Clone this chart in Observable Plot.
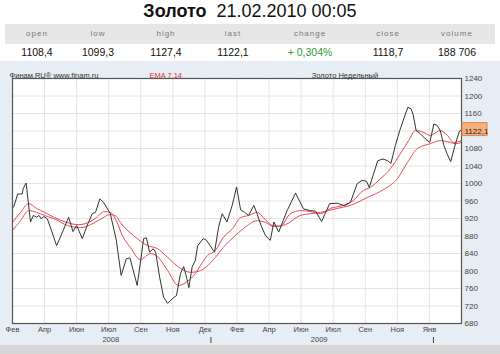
<!DOCTYPE html>
<html><head><meta charset="utf-8">
<script src="https://cdn.jsdelivr.net/npm/d3@7"></script>
<script src="https://cdn.jsdelivr.net/npm/@observablehq/plot@0.6"></script>
<style>
body{margin:0;width:500px;height:354px;overflow:hidden;background:#fff;font-family:"Liberation Sans",Arial,sans-serif;position:relative}
#title{position:absolute;top:1px;left:0;width:500px;text-align:center;font-size:18px;line-height:20px;color:#111}
#title b{font-weight:bold}
#hdr{position:absolute;top:24px;left:5px;width:490px;height:20px;background:#e6e6e6}
.cell{position:absolute;transform:translateX(-50%);white-space:nowrap}
.h{top:29px;font-size:8px;letter-spacing:1px;color:#777}
.v{top:46px;font-size:10.5px;color:#111}
#panel{position:absolute;top:61px;left:0;width:500px;height:284px;background:#e6edf5}
#foot{position:absolute;top:345px;left:0;width:500px;height:9px;background:#d6d6d6}
</style></head>
<body>
<div id="title"><b>Золото</b>&nbsp; 21.02.2010 00:05</div>
<div id="hdr"></div>
<div id="stats"></div>
<div id="panel"></div>
<div id="foot"></div>
<script>
// ---- table data
const statLabels = ["open","low","high","last","change","close","volume"];
const statValues = ["1108,4","1099,3","1127,4","1122,1","+ 0,304%","1118,7","188 706"];
const statCenters = [37, 98, 166, 233, 310, 388, 457];

// ---- axis labels
const tickWeeks = [0,8,16,24,32,40,48,56,64,72,80,88,96,104];
const tickLabels = ["Фев","Апр","Июн","Июл","Сен","Ноя","Дек","Фев","Апр","Июн","Июл","Сен","Ноя","Янв"];
const yearLabels = ["2008","2009"];
const yearWeeks = [24.5, 76.5];
const yearMarkWeeks = [49.5, 105];
const yTicks = [680,720,760,800,840,880,920,960,1000,1040,1080,1120,1160,1200,1240];
const yLabelTicks = [680,720,760,800,840,880,920,960,1000,1040,1080,1160,1200,1240];

// ---- weekly close (black)
const closeWeeks = [0.3,1.3,2.4,2.7,3.4,4.5,5.2,6.0,6.6,7.2,
 7.8,8.7,9.7,11.0,12.8,14.0,15.1,16.0,17.4,18.8,
 19.9,20.7,21.8,22.8,24.4,25.9,27.1,28.4,29.3,31.1,
 32.1,32.7,33.4,34.2,35.1,35.7,36.7,37.7,38.7,39.8,
 40.9,41.9,42.7,43.4,44.0,44.8,45.6,46.2,47.6,48.4,
 50.4,51.4,52.3,53.5,54.8,55.9,56.9,57.9,58.9,60.2,
 61.0,62.0,63.1,64.3,65.2,66.4,68.5,70.6,72.6,74.3,
 75.6,77.1,79.1,81.0,82.8,84.3,86.0,87.2,88.3,89.0,
 91.1,92.4,93.6,94.4,95.5,96.6,97.6,98.6,99.4,99.9,
 100.7,101.7,103.0,104.1,105.1,105.9,106.7,107.6,108.4,109.3,
 110.5,111.5,111.9];
const closeValues = [946,976,976,989,1001,912,927,923,927,919,
 925,919,893,858,896,923,890,904,874,908,
 931,934,965,956,931,870,790,828,830,767,
 832,874,876,843,851,843,786,740,726,736,
 744,794,810,786,762,809,824,858,874,870,
 843,900,931,912,950,992,940,934,927,950,
 931,904,881,870,912,889,938,978,942,938,
 937,913,954,955,949,957,1000,1007,1005,991,
 1052,1056,1052,1046,1087,1121,1148,1174,1171,1159,
 1121,1114,1102,1094,1136,1133,1121,1087,1068,1050,
 1091,1120,1122.1];

// ---- EMA 7
const ema7Weeks = [0,2,4,6,8,10.5,13.5,16.5,19,20.9,
 22.9,24.4,25.9,27.4,29.4,31.9,34.4,36.2,38.7,41.4,
 43.6,45.6,46.9,48.6,50.6,52.6,54.9,56.9,58.9,61.1,
 62.6,64.8,66.8,69.3,71.8,74.3,76.8,79.3,82.5,85.0,
 87.5,89.3,91.8,94.3,96.8,98.8,100.5,102.5,104.2,106.7,
 108.5,110.0,112.0];
const ema7Values = [911,934,954,943,934,922,911,906,911,922,
 936,934,915,881,854,826,840,833,801,767,
 776,794,813,835,847,877,897,922,927,934,
 922,904,902,931,938,936,931,943,950,961,
 984,991,1011,1034,1069,1098,1121,1117,1110,1121,
 1110,1094,1098];

// ---- EMA 14
const ema14Weeks = [0,2,4,6,8,10.7,13.7,17,19.5,21.9,
 24.4,25.9,26.9,30.2,33.7,36.2,38.7,41.9,44.4,46.9,
 50.6,52.6,55.1,57.6,61.1,63.1,65.1,68.1,71.8,76.8,
 81,84.3,88.5,92.5,96,98.5,101,104.2,106.7,109.2,
 110.5,112];
const ema14Values = [893,915,938,934,927,918,904,899,906,918,
 929,925,911,881,858,851,831,806,797,801,
 831,854,877,897,915,911,902,906,927,934,
 943,950,968,986,1011,1048,1080,1091,1098,1094,
 1091,1094];

const lastValue = 1122.1;
const lastWeek = 112;

// ---- table
const stats = document.getElementById("stats");
statLabels.forEach((l,i)=>{
  const h=document.createElement("div");h.className="cell h";h.style.left=statCenters[i]+"px";h.textContent=l;stats.appendChild(h);
  const v=document.createElement("div");v.className="cell v";v.style.left=statCenters[i]+"px";v.textContent=statValues[i];
  if(l==="change") v.style.color="#2a9a2a";
  stats.appendChild(v);
});

const toRows = (w,v)=>w.map((d,i)=>({week:d,value:v[i]}));
const closeData = toRows(closeWeeks, closeValues);
const ema7 = toRows(ema7Weeks, ema7Values);
const ema14 = toRows(ema14Weeks, ema14Values);

const fmt = d3.format(".1f");
const chart = Plot.plot({
  width: 500, height: 284,
  marginLeft: 12, marginRight: 39, marginTop: 17, marginBottom: 22,
  style: {background: "transparent", fontFamily: "Liberation Sans, Arial, sans-serif", color:"#333"},
  x: {domain: [0, lastWeek], label: null},
  y: {domain: [680, 1240], label: null},
  marks: [
    Plot.frame({fill: "white", stroke: "none"}),
    Plot.gridX(tickWeeks, {stroke: "#e4e4e4", strokeOpacity: 1}),
    Plot.gridY(yTicks, {stroke: "#e4e4e4", strokeOpacity: 1}),
    Plot.line(ema14, {x: "week", y: "value", stroke: "#e0505a", strokeWidth: 1, curve: "monotone-x"}),
    Plot.line(ema7, {x: "week", y: "value", stroke: "#e8464f", strokeWidth: 1, curve: "monotone-x"}),
    Plot.line(closeData, {x: "week", y: "value", stroke: "#333", strokeWidth: 1}),
    Plot.frame({stroke: "#555", strokeWidth: 1.2}),
    Plot.axisX({ticks: tickWeeks, tickFormat: (d)=>tickLabels[tickWeeks.indexOf(d)], tickSize: 0, tickPadding: 3, fontSize: 7.5, fill:"#444", label: null}),
    Plot.axisY({anchor: "right", ticks: yLabelTicks, tickFormat: d=>String(d), tickSize: 0, tickPadding: 3, fontSize: 8, fill:"#444", label: null}),
    Plot.text(yearLabels, {x: (d,i)=>yearWeeks[i], text: d=>d, frameAnchor: "bottom", dy: 18, fontSize: 7.5, fill:"#444"}),
    Plot.tickX(yearMarkWeeks, {x: d=>d, insetTop: 259, insetBottom: -20, stroke: "#444", strokeWidth: 1}),
    Plot.rect([lastValue], {x1: ()=>lastWeek, x2: ()=>lastWeek, y1: d=>d, y2: d=>d, insetLeft: 1, insetRight: -26, insetTop: -7, insetBottom: -6, fill: "#f7b07a", stroke: "#d98a50"}),
    Plot.text([lastValue], {x: ()=>lastWeek, y: d=>d, text: d=>fmt(d).replace(".", ","), dx: 3, dy: 1, textAnchor: "start", fontSize: 8, fill: "#222"}),
    Plot.text(["Финам.RU® www.finam.ru"], {frameAnchor: "top-left", dy: -6, dx: -3, textAnchor: "start", fontSize: 7.5, fill: "#333"}),
    Plot.text(["EMA 7,14"], {frameAnchor: "top-left", dy: -6, dx: 137, textAnchor: "start", fontSize: 7.5, fill: "#e03030"}),
    Plot.text(["Золото Недельный"], {frameAnchor: "top", dy: -6, dx: 108, fontSize: 7.5, fill: "#333"})
  ]
});
document.getElementById("panel").appendChild(chart);
</script>
</body></html>
